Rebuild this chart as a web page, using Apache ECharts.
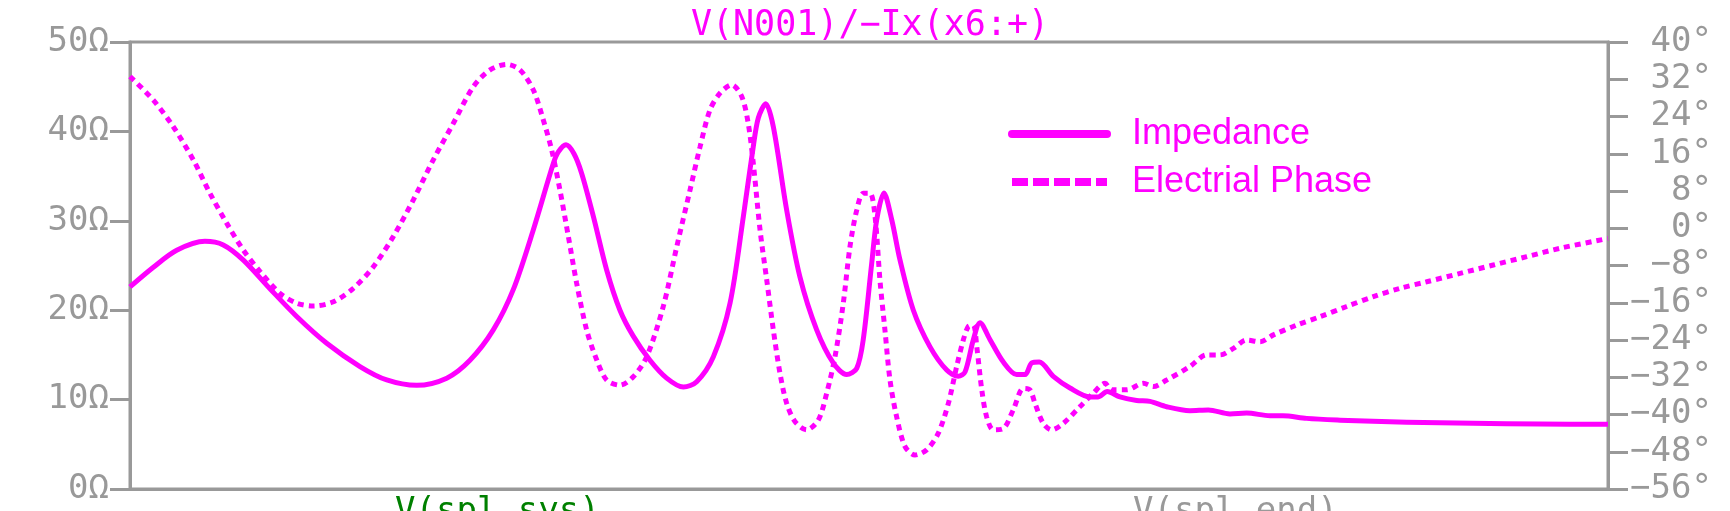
<!DOCTYPE html>
<html>
<head>
<meta charset="utf-8">
<script src="https://cdn.jsdelivr.net/npm/echarts@6/dist/echarts.min.js"></script>
<style>
  html, body { margin: 0; padding: 0; background: #fff; }
  #chart { width: 1730px; height: 511px; }
</style>
</head>
<body>
<div id="chart"></div>
<script>
// Sweep position (% of the horizontal span) for each sample
const impedanceX = [0, 1.58, 3.16, 5.07, 6.31, 7.67, 9.47, 11.28, 13.31, 15.56, 17.37, 19.40, 21.43, 23.00, 24.58, 25.93, 27.29, 28.64, 28.98, 29.50, 30.04, 30.56, 31.35, 32.25, 33.15, 34.05, 35.18, 36.31, 37.44, 38.34, 39.47, 40.60, 41.50, 42.17, 42.51, 43.01, 43.53, 44.43, 45.33, 46.46, 47.58, 48.49, 49.17, 49.61, 50.18, 50.52, 51.01, 51.54, 52.10, 53.00, 54.13, 55.26, 56.04, 56.50, 57.06, 57.51, 58.19, 59.09, 59.99, 60.56, 61.01, 61.52, 62.47, 63.60, 64.95, 65.51, 66.12, 66.98, 68.11, 69.01, 70.14, 71.71, 72.96, 74.42, 75.55, 77.13, 78.01, 79.61, 81.87, 84.10, 86.38, 90.87, 95.40, 100];
// Impedance magnitude (Ω)
const impedance = [22.6, 24.8, 26.7, 27.7, 27.3, 25.6, 22.4, 19.3, 16.3, 13.7, 12.2, 11.6, 12.4, 14.4, 17.8, 22.3, 29.0, 36.4, 37.7, 38.5, 37.5, 35.3, 30.5, 24.5, 20.0, 17.1, 14.4, 12.4, 11.4, 12.0, 14.8, 20.8, 30.5, 38.3, 41.5, 43.1, 40.5, 31.2, 23.7, 17.8, 14.1, 12.8, 13.5, 16.7, 25.2, 30.1, 33.1, 30.1, 25.6, 20.0, 15.9, 13.3, 12.6, 13.1, 16.7, 18.6, 16.7, 14.2, 12.8, 12.8, 14.1, 14.2, 12.6, 11.3, 10.3, 10.3, 10.9, 10.3, 9.9, 9.8, 9.2, 8.76, 8.84, 8.4, 8.5, 8.2, 8.2, 7.9, 7.7, 7.57, 7.46, 7.35, 7.27, 7.24];

const phaseX = [0, 1.58, 2.93, 4.28, 5.41, 6.54, 7.67, 8.80, 10.15, 11.28, 12.40, 13.76, 15.11, 16.46, 17.81, 19.17, 20.52, 21.87, 23.23, 24.36, 25.49, 26.39, 27.29, 27.96, 28.53, 29.09, 29.66, 30.22, 30.90, 31.58, 32.25, 33.15, 34.05, 34.96, 36.08, 36.99, 37.89, 38.57, 39.24, 39.92, 40.71, 41.39, 41.83, 42.17, 42.63, 43.08, 43.53, 43.98, 44.43, 44.99, 45.78, 46.57, 47.14, 47.70, 48.26, 48.71, 49.17, 49.61, 50.07, 50.41, 50.74, 51.08, 51.42, 51.87, 52.44, 53.11, 53.90, 54.69, 55.37, 55.93, 56.38, 56.72, 57.06, 57.29, 57.63, 57.96, 58.41, 59.09, 59.76, 60.44, 60.89, 61.23, 61.79, 62.36, 63.15, 64.28, 65.18, 65.97, 66.42, 67.44, 68.56, 69.24, 70.14, 71.71, 72.85, 73.75, 74.65, 75.55, 76.46, 77.36, 78.94, 80.51, 82.32, 84.12, 85.93, 87.73, 89.99, 92.24, 94.50, 96.75, 100];
// Electrical phase (degrees)
const phase = [32.6, 27.5, 21.8, 14.7, 7.5, 1.1, -4.7, -9.3, -14.0, -16.1, -16.7, -15.8, -12.9, -8.3, -1.8, 6.1, 14.7, 22.5, 30.4, 34.0, 35.2, 34.0, 29.7, 23.3, 16.8, 8.2, -1.8, -11.8, -21.9, -28.3, -32.6, -33.7, -31.9, -27.6, -16.8, -4.0, 8.2, 17.5, 25.4, 29.0, 30.8, 28.3, 22.5, 14.0, -0.4, -11.1, -21.9, -31.2, -37.6, -41.5, -43.3, -41.2, -35.4, -27.6, -16.1, -4.0, 3.9, 7.5, 7.5, 2.5, -11.1, -21.9, -32.6, -40.5, -46.9, -48.7, -47.6, -44.0, -37.6, -29.7, -24.0, -21.1, -20.8, -25.4, -34.7, -40.5, -43.3, -43.0, -39.0, -34.4, -34.7, -37.6, -41.9, -43.3, -41.9, -38.3, -35.4, -33.3, -34.7, -34.7, -33.3, -34.0, -32.6, -29.7, -27.2, -27.2, -25.8, -24.0, -24.4, -22.9, -20.8, -19.0, -16.8, -14.7, -12.9, -11.5, -9.7, -7.9, -6.1, -4.3, -2.2];

// Axis ranges / tick steps
const leftAxis = { min: 0, max: 50, interval: 10 };
const rightAxis = { min: -56, max: 40, interval: 8 };

const titleText = 'V(N001)/\u2212Ix(x6:+)';
const seriesNames = ['Impedance', 'Electrial Phase'];
const traceLabels = ['V(spl_sys)', 'V(spl_end)'];

const MAG = '#ff00ff';
const GREY = '#999999';
const MONO = 'DejaVu Sans Mono';

const zip = (xs, ys) => xs.map((x, i) => [x, ys[i]]);
const fmtDeg = v => (v < 0 ? '\u2212' + (-v) : String(v)) + '\u00b0';

const chart = echarts.init(document.getElementById('chart'));
chart.setOption({
  animation: false,
  backgroundColor: '#ffffff',
  title: {
    text: titleText,
    left: 865, textAlign: 'center',
    top: 1,
    textStyle: { fontFamily: MONO, fontSize: 35, fontWeight: 'normal', color: MAG, lineHeight: 40 }
  },
  legend: {
    orient: 'vertical',
    left: 1008, top: 114,
    padding: 0,
    itemWidth: 95, itemHeight: 14, itemGap: 8,
    itemStyle: { opacity: 0 },
    textStyle: { fontFamily: 'Liberation Sans', fontSize: 36, color: MAG, lineHeight: 40, padding: [0, 0, 0, 20] },
    data: [
      { name: seriesNames[0], lineStyle: { width: 8, type: 'solid', cap: 'round' } },
      { name: seriesNames[1], lineStyle: { width: 8, type: [16, 5], cap: 'butt' } }
    ]
  },
  grid: {
    left: 130, right: 122, top: 42, bottom: 22,
    show: true, borderColor: GREY, borderWidth: 3, backgroundColor: 'transparent'
  },
  xAxis: {
    type: 'value', min: 0, max: 100,
    axisLine: { show: true, lineStyle: { color: GREY, width: 3 } },
    axisTick: { show: false }, axisLabel: { show: false }, splitLine: { show: false }
  },
  yAxis: [
    {
      type: 'value', position: 'left',
      min: leftAxis.min, max: leftAxis.max, interval: leftAxis.interval,
      axisLine: { show: true, lineStyle: { color: GREY, width: 3 } },
      axisTick: { show: true, length: 20, lineStyle: { color: GREY, width: 3 } },
      axisLabel: { formatter: '{value}\u03a9', fontFamily: MONO, fontSize: 34, color: GREY, margin: 21 },
      splitLine: { show: false }
    },
    {
      type: 'value', position: 'right',
      min: rightAxis.min, max: rightAxis.max, interval: rightAxis.interval,
      axisLine: { show: true, lineStyle: { color: GREY, width: 3 } },
      axisTick: { show: true, length: 20, lineStyle: { color: GREY, width: 3 } },
      axisLabel: {
        formatter: fmtDeg, fontFamily: MONO, fontSize: 34, color: GREY, margin: 104, align: 'right',
        showMinLabel: true, showMaxLabel: true
      },
      splitLine: { show: false }
    }
  ],
  graphic: [
    { type: 'text', left: 395, top: 495, silent: true,
      style: { text: traceLabels[0], fontFamily: MONO, fontSize: 34, fill: '#008000' } },
    { type: 'text', left: 1133, top: 495, silent: true,
      style: { text: traceLabels[1], fontFamily: MONO, fontSize: 34, fill: GREY } }
  ],
  series: [
    {
      name: seriesNames[0], type: 'line', yAxisIndex: 0,
      data: zip(impedanceX, impedance),
      symbol: 'none', smooth: 0.3, color: MAG,
      lineStyle: { color: MAG, width: 5, type: 'solid', join: 'round' }
    },
    {
      name: seriesNames[1], type: 'line', yAxisIndex: 1,
      data: zip(phaseX, phase),
      symbol: 'none', smooth: 0.3, color: MAG,
      lineStyle: { color: MAG, width: 5, type: [6, 5] }
    }
  ]
});
</script>
</body>
</html>
